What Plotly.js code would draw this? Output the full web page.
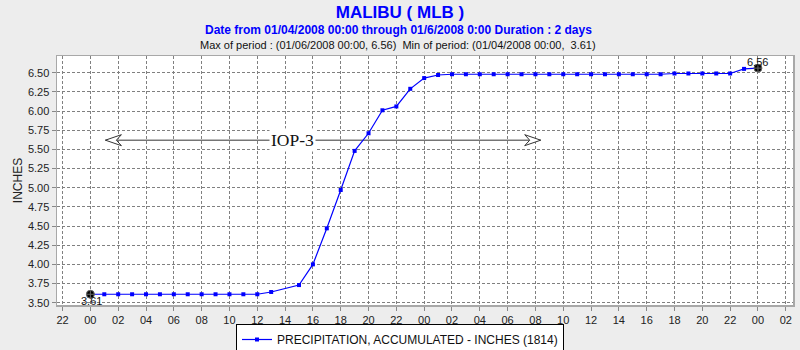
<!DOCTYPE html>
<html>
<head>
<meta charset="utf-8">
<script src="https://cdn.plot.ly/plotly-3.0.1.min.js"></script>
<style>html,body{margin:0;padding:0;background:#ededed;}</style>
</head>
<body>
<div id="chart" style="width:800px;height:350px;"></div>
<script>
// ---- data ----
const startTime = '2008-01-04 00:00';
const hoursSinceStart = [0,1,2,3,4,5,6,7,8,9,10,11,12,13,
  15,16,17,18,19,20,21,22,23,24,25,
  26,27,28,29,30,31,32,33,34,35,36,37,38,39,40,41,
  42,43,44,45,46,47,48];
const inches = [3.61,3.61,3.61,3.61,3.61,3.61,3.61,3.61,3.61,3.61,3.61,3.61,3.61,3.64,
  3.73,4.00,4.47,4.97,5.48,5.71,6.01,6.06,6.29,6.43,6.47,
  6.48,6.48,6.48,6.48,6.48,6.48,6.48,6.48,6.48,6.48,6.48,6.48,6.48,6.48,6.48,6.48,
  6.49,6.49,6.49,6.49,6.49,6.55,6.56];
const seriesName = 'PRECIPITATION, ACCUMULATED - INCHES (1814)';
const titleText = 'MALIBU ( MLB )';
const subtitleText = 'Date from 01/04/2008 00:00 through 01/6/2008 0:00 Duration : 2 days';
const statsText = 'Max of period : (01/06/2008 00:00, 6.56)  Min of period: (01/04/2008 00:00,  3.61)';
const eventLabel = 'IOP-3';
const eventStartHour = 1.08, eventEndHour = 32.38, eventLabelHour = 14.5, eventLevel = 5.62;

// ---- helpers ----
const base = Date.UTC(2008, 0, 4, 0, 0);
function hourToDate(h) {
  return new Date(base + h * 3600000).toISOString().slice(0, 19).replace('T', ' ');
}
const times = hoursSinceStart.map(hourToDate);
let iMax = 0, iMin = 0;
inches.forEach((v, i) => { if (v > inches[iMax]) iMax = i; if (v < inches[iMin]) iMin = i; });

const font = 'Liberation Sans, Arial, sans-serif';

const traces = [
  {
    x: times, y: inches, type: 'scatter', mode: 'lines+markers', name: seriesName,
    line: {color: '#0000ff', width: 1.2},
    marker: {color: '#0000ff', size: 4, symbol: 'square'}
  },
  {
    x: [times[iMin], times[iMax]], y: [inches[iMin], inches[iMax]],
    type: 'scatter', mode: 'markers', showlegend: false,
    marker: {symbol: 'circle-cross', size: 8, color: '#000', line: {color: '#666', width: 1}}
  }
];

const layout = {
  width: 800, height: 350,
  paper_bgcolor: '#ededed', plot_bgcolor: '#ffffff',
  margin: {l: 57, r: 7, t: 56, b: 45},
  font: {family: font, size: 11, color: '#222'},
  title: {text: titleText, x: 0.5, xref: 'container', y: 1 - 12/350, yref: 'container', yanchor: 'middle',
          font: {family: font, size: 17, color: '#0000ff', weight: 'bold'}},
  xaxis: {
    type: 'date', range: [hourToDate(-2.4), hourToDate(50.52)],
    tick0: startTime, dtick: 7200000, tickformat: '%H',
    showgrid: true, gridcolor: '#808080', griddash: '3px,2px', gridwidth: 1,
    showline: true, linecolor: '#a8a8a8', linewidth: 1.5, mirror: true,
    ticks: 'outside', ticklen: 4, tickcolor: '#888',
    tickfont: {family: font, size: 11, color: '#222'}, zeroline: false
  },
  yaxis: {
    range: [3.47, 6.718], dtick: 0.25, tick0: 3.5, tickformat: '.2f',
    showgrid: true, gridcolor: '#808080', griddash: '3px,2px', gridwidth: 1,
    showline: true, linecolor: '#a8a8a8', linewidth: 1.5, mirror: true,
    ticks: 'outside', ticklen: 4, tickcolor: '#888',
    tickfont: {family: font, size: 11, color: '#222'}, zeroline: false,
    title: {text: 'INCHES', font: {family: font, size: 12, color: '#222'}, standoff: 2}
  },
  showlegend: true,
  legend: {
    orientation: 'h', xref: 'container', yref: 'container', x: 0.5, xanchor: 'center',
    y: 1 - 324/350, yanchor: 'top', bgcolor: '#ffffff', bordercolor: '#000', borderwidth: 1,
    font: {family: font, size: 12, color: '#111'}, itemwidth: 30
  },
  shapes: [
    {type: 'line', xref: 'x', yref: 'y', x0: hourToDate(eventStartHour), x1: hourToDate(eventEndHour),
     y0: eventLevel, y1: eventLevel, line: {color: '#333', width: 1}, layer: 'between'},
    {type: 'path', xref: 'x', yref: 'y', xsizemode: 'pixel', ysizemode: 'pixel',
     xanchor: hourToDate(eventStartHour), yanchor: eventLevel,
     path: 'M0,0 L16,5.5 L11,0 L16,-5.5 Z', fillcolor: '#ffffff', line: {color: '#333', width: 1}, layer: 'between'},
    {type: 'path', xref: 'x', yref: 'y', xsizemode: 'pixel', ysizemode: 'pixel',
     xanchor: hourToDate(eventEndHour), yanchor: eventLevel,
     path: 'M0,0 L-16,5.5 L-11,0 L-16,-5.5 Z', fillcolor: '#ffffff', line: {color: '#333', width: 1}, layer: 'between'}
  ],
  annotations: [
    {text: '<b>' + subtitleText + '</b>', xref: 'paper', yref: 'paper', x: (398-57)/736, y: (305-30)/249,
     xanchor: 'center', yanchor: 'middle', showarrow: false, font: {family: font, size: 12, color: '#0000ff'}},
    {text: statsText, xref: 'paper', yref: 'paper', x: (398-57)/736, y: (305-45)/249,
     xanchor: 'center', yanchor: 'middle', showarrow: false, font: {family: font, size: 11, color: '#111'}},
    {text: eventLabel, xref: 'x', yref: 'y', x: hourToDate(eventLabelHour), y: eventLevel,
     xanchor: 'center', yanchor: 'middle', showarrow: false, bgcolor: '#ffffff', borderpad: 1,
     font: {family: 'Liberation Serif, Times New Roman, serif', size: 17.5, color: '#111'}},
    {text: inches[iMin].toFixed(2), xref: 'x', yref: 'y', x: times[iMin], y: inches[iMin],
     xanchor: 'center', yanchor: 'middle', yshift: -7, xshift: 1, showarrow: false,
     font: {family: font, size: 11, color: '#111'}},
    {text: inches[iMax].toFixed(2), xref: 'x', yref: 'y', x: times[iMax], y: inches[iMax],
     xanchor: 'center', yanchor: 'middle', yshift: 6, showarrow: false,
     font: {family: font, size: 11, color: '#111'}}
  ]
};

Plotly.newPlot('chart', traces, layout, {staticPlot: true, displayModeBar: false});
</script>
</body>
</html>
